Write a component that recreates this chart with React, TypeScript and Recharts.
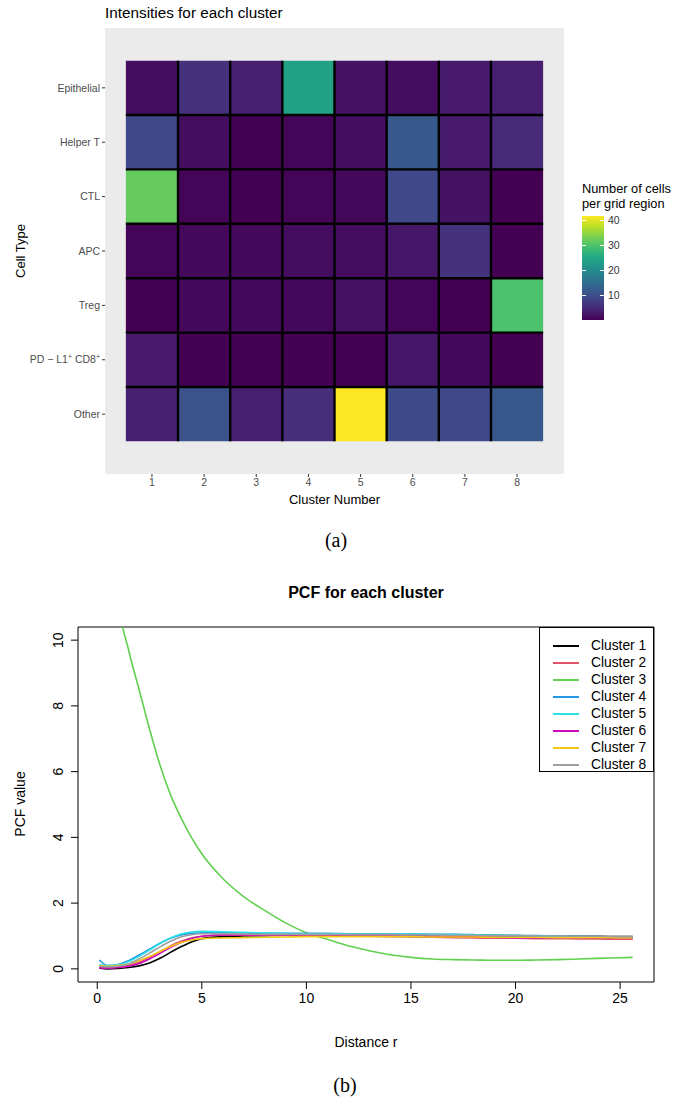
import React from 'react';
import { ScatterChart, Scatter, XAxis, YAxis, ReferenceArea, ReferenceLine, LineChart, Line, Label } from 'recharts';

// ---- (a) heatmap data ----
const CLUSTERS = [1, 2, 3, 4, 5, 6, 7, 8];
const CELL_TYPES = ['Epithelial', 'Helper T', 'CTL', 'APC', 'Treg', 'PD-L1+ CD8+', 'Other'];
const EPITHELIAL = [1.5, 6, 3.5, 24, 2, 1.5, 3, 3.5];
const HELPER_T = [9, 1.5, 0, 0.5, 1.5, 11.5, 3, 5];
const CTL = [32, 0.5, 0, 0.5, 1, 9, 2, 0];
const APC = [0.5, 1, 1, 1.5, 1.5, 2.5, 6, 0];
const TREG = [0, 1, 1, 1, 2, 0.5, 0, 30];
const PDL1_CD8 = [3, 0, 0, 0, 0, 2.5, 1, 0];
const OTHER = [3.5, 10.5, 3.5, 5.5, 42, 9.5, 9, 11.5];
const INTENSITY_ROWS = [EPITHELIAL, HELPER_T, CTL, APC, TREG, PDL1_CD8, OTHER];
const LEGEND_TICKS = [10, 20, 30, 40];

// ---- (b) pcf data ----
const R_VALUES = [0.1, 0.5, 1, 1.5, 2, 2.5, 3, 3.5, 4, 4.5, 5, 6, 7, 8, 9, 10, 11, 12, 13, 14, 15, 16, 17, 18, 19, 20, 21, 22, 23, 24, 25, 25.6];
const PCF_C1 = [0.02, 0.0, 0.01, 0.04, 0.09, 0.18, 0.32, 0.5, 0.67, 0.82, 0.92, 0.98, 1.0, 1.01, 1.02, 1.02, 1.03, 1.03, 1.03, 1.03, 1.02, 1.02, 1.02, 1.01, 1.01, 1.0, 1.0, 1.0, 0.99, 0.99, 0.98, 0.98];
const PCF_C2 = [0.05, 0.03, 0.05, 0.1, 0.2, 0.35, 0.52, 0.7, 0.84, 0.94, 0.99, 1.02, 1.02, 1.02, 1.02, 1.02, 1.01, 1.0, 0.99, 0.98, 0.97, 0.96, 0.95, 0.94, 0.93, 0.93, 0.92, 0.92, 0.91, 0.91, 0.9, 0.9];
const PCF_C3 = [24, 16, 11.3, 9.7, 8.5, 7.3, 6.2, 5.3, 4.6, 4.0, 3.5, 2.75, 2.2, 1.78, 1.4, 1.1, 0.9, 0.7, 0.55, 0.43, 0.35, 0.3, 0.28, 0.27, 0.26, 0.26, 0.27, 0.28, 0.3, 0.32, 0.34, 0.35];
const PCF_C4 = [0.27, 0.1, 0.13, 0.25, 0.42, 0.6, 0.78, 0.93, 1.03, 1.08, 1.1, 1.1, 1.09, 1.08, 1.08, 1.08, 1.08, 1.07, 1.07, 1.06, 1.06, 1.05, 1.05, 1.04, 1.03, 1.02, 1.01, 1.0, 0.99, 0.98, 0.97, 0.97];
const PCF_C5 = [0.12, 0.1, 0.12, 0.22, 0.38, 0.57, 0.77, 0.94, 1.06, 1.12, 1.14, 1.13, 1.11, 1.09, 1.08, 1.07, 1.07, 1.06, 1.06, 1.05, 1.05, 1.04, 1.04, 1.03, 1.02, 1.01, 1.0, 0.99, 0.98, 0.97, 0.96, 0.96];
const PCF_C6 = [0.03, 0.02, 0.04, 0.08, 0.16, 0.3, 0.47, 0.65, 0.8, 0.92, 0.99, 1.03, 1.03, 1.03, 1.03, 1.03, 1.03, 1.02, 1.02, 1.01, 1.0, 0.99, 0.98, 0.97, 0.96, 0.95, 0.95, 0.94, 0.94, 0.93, 0.93, 0.93];
const PCF_C7 = [0.1, 0.08, 0.1, 0.15, 0.25, 0.38, 0.53, 0.68, 0.8, 0.88, 0.92, 0.94, 0.95, 0.96, 0.97, 0.98, 0.98, 0.98, 0.98, 0.98, 0.98, 0.97, 0.97, 0.97, 0.96, 0.96, 0.96, 0.95, 0.95, 0.95, 0.94, 0.94];
const PCF_C8 = [0.08, 0.06, 0.08, 0.15, 0.3, 0.48, 0.67, 0.84, 0.97, 1.04, 1.07, 1.07, 1.06, 1.05, 1.05, 1.05, 1.05, 1.04, 1.04, 1.04, 1.03, 1.03, 1.02, 1.02, 1.01, 1.01, 1.0, 1.0, 0.99, 0.99, 0.98, 0.98];
const PCF_SERIES = [PCF_C1, PCF_C2, PCF_C3, PCF_C4, PCF_C5, PCF_C6, PCF_C7, PCF_C8];
const SERIES_NAMES = ['Cluster 1', 'Cluster 2', 'Cluster 3', 'Cluster 4', 'Cluster 5', 'Cluster 6', 'Cluster 7', 'Cluster 8'];
const SERIES_COLORS = ['#000000', '#DF536B', '#61D04F', '#2297E6', '#28E2E5', '#CD0BBC', '#F5C710', '#9E9E9E'];
const X_TICKS = [0, 5, 10, 15, 20, 25];
const Y_TICKS = [0, 2, 4, 6, 8, 10];

const VIRIDIS = ['#440154', '#482475', '#414487', '#355F8D', '#2A788E', '#21918C', '#22A884', '#44BF70', '#7AD151', '#BDDF26', '#FDE725'];

const SANS = '"Liberation Sans", Arial, Helvetica, sans-serif';
const SERIF = '"Liberation Serif", "Times New Roman", serif';

const hexToRgb = (h: string) => [1, 3, 5].map((i) => parseInt(h.slice(i, i + 2), 16));

function viridis(t: number) {
  const p = Math.max(0, Math.min(1, t)) * (VIRIDIS.length - 1);
  const i = Math.min(Math.floor(p), VIRIDIS.length - 2);
  const f = p - i;
  const a = hexToRgb(VIRIDIS[i]);
  const b = hexToRgb(VIRIDIS[i + 1]);
  const c = a.map((v, k) => Math.round(v + (b[k] - v) * f));
  return `rgb(${c[0]},${c[1]},${c[2]})`;
}

const ALL_VALUES = INTENSITY_ROWS.flat();
const V_MIN = Math.min(...ALL_VALUES);
const V_MAX = Math.max(...ALL_VALUES);
const N_ROWS = CELL_TYPES.length;
const N_COLS = CLUSTERS.length;

const TILES = INTENSITY_ROWS.flatMap((row, ri) =>
  row.map((v, ci) => ({ x: CLUSTERS[ci], y: N_ROWS - ri, v }))
);

const PCF_TABLE = R_VALUES.map((r, i) => {
  const d: Record<string, number> = { r };
  PCF_SERIES.forEach((s, k) => (d[`c${k + 1}`] = s[i]));
  return d;
});

const TICK_FONT = 10.5;

const CellTypeTick = (props: any) => {
  const { x, y, payload } = props;
  const name = CELL_TYPES[N_ROWS - payload.value];
  const common = { x, y, dy: '0.35em', textAnchor: 'end' as const, fill: '#4D4D4D', fontSize: TICK_FONT, fontFamily: SANS };
  if (name === 'PD-L1+ CD8+') {
    return (
      <text {...common}>
        <tspan>PD − L1</tspan>
        <tspan dy={-4} fontSize={7}>+</tspan>
        <tspan dy={4}> CD8</tspan>
        <tspan dy={-4} fontSize={7}>+</tspan>
      </text>
    );
  }
  return <text {...common}>{name}</text>;
};

const RotatedTick = (props: any) => {
  const { x, y, payload } = props;
  const bx = x - 6;
  return (
    <text x={bx} y={y} transform={`rotate(-90, ${bx}, ${y})`} textAnchor="middle" fill="#000" fontSize={14} fontFamily={SANS}>
      {payload.value}
    </text>
  );
};

// legend bar geometry
const BAR_TOP = 216;
const BAR_H = 104;
const barY = (v: number) => BAR_TOP + (1 - (v - V_MIN) / (V_MAX - V_MIN)) * BAR_H;

export default function App() {
  return (
    <div style={{ position: 'absolute', left: 0, top: 0, width: 673, height: 1106, background: '#fff', fontFamily: SANS }}>
      {/* (a) */}
      <div style={{ position: 'absolute', left: 105, top: 4, fontSize: 15.3, color: '#000', whiteSpace: 'nowrap' }}>Intensities for each cluster</div>
      <div style={{ position: 'absolute', left: 20, top: 251, transform: 'translate(-50%, -50%) rotate(-90deg)', fontSize: 13, whiteSpace: 'nowrap' }}>Cell Type</div>
      <div style={{ position: 'absolute', left: 0, top: 0 }}>
        <ScatterChart width={673} height={520} margin={{ top: 28, right: 109, bottom: 14, left: 45 }}>
          <XAxis
            type="number"
            dataKey="x"
            domain={[0.1, N_COLS + 0.9]}
            ticks={CLUSTERS}
            allowDataOverflow
            axisLine={false}
            tickSize={3}
            tickLine={{ stroke: '#333333' }}
            tick={{ fill: '#4D4D4D', fontSize: TICK_FONT, fontFamily: SANS }}
            height={32}
          >
            <Label value="Cluster Number" position="insideBottom" offset={2} style={{ fontSize: 13, fill: '#000', fontFamily: SANS }} />
          </XAxis>
          <YAxis
            type="number"
            dataKey="y"
            domain={[-0.1, N_ROWS + 1.1]}
            ticks={[1, 2, 3, 4, 5, 6, 7]}
            allowDataOverflow
            axisLine={false}
            tickSize={3}
            tickLine={{ stroke: '#333333' }}
            tick={<CellTypeTick />}
            width={60}
          />
          <ReferenceArea x1={0.1} x2={N_COLS + 0.9} y1={-0.1} y2={N_ROWS + 1.1} fill="#EBEBEB" fillOpacity={1} stroke="none" ifOverflow="visible" />
          {TILES.map((t, i) => (
            <ReferenceArea
              key={i}
              x1={t.x - 0.5}
              x2={t.x + 0.5}
              y1={t.y - 0.5}
              y2={t.y + 0.5}
              fill={viridis((t.v - V_MIN) / (V_MAX - V_MIN))}
              fillOpacity={1}
              stroke="none"
              ifOverflow="visible"
            />
          ))}
          {CLUSTERS.slice(0, -1).map((c) => (
            <ReferenceLine
              key={`v${c}`}
              segment={[{ x: c + 0.5, y: 0.5 }, { x: c + 0.5, y: N_ROWS + 0.5 }]}
              stroke="#000"
              strokeWidth={2.4}
              ifOverflow="visible"
            />
          ))}
          {[1, 2, 3, 4, 5, 6].map((r) => (
            <ReferenceLine
              key={`h${r}`}
              segment={[{ x: 0.5, y: r + 0.5 }, { x: N_COLS + 0.5, y: r + 0.5 }]}
              stroke="#000"
              strokeWidth={2.4}
              ifOverflow="visible"
            />
          ))}
          <Scatter data={TILES} isAnimationActive={false} shape={() => <g />} />
        </ScatterChart>
      </div>
      {/* colour bar legend */}
      <div style={{ position: 'absolute', left: 582, top: 181, fontSize: 12.8, lineHeight: '15px', color: '#000', whiteSpace: 'nowrap' }}>
        Number of cells<br />per grid region
      </div>
      <div
        style={{
          position: 'absolute',
          left: 582,
          top: BAR_TOP,
          width: 22,
          height: BAR_H,
          background: `linear-gradient(to top, ${VIRIDIS.join(', ')})`,
        }}
      />
      {LEGEND_TICKS.map((v) => (
        <React.Fragment key={v}>
          <div style={{ position: 'absolute', left: 582, top: barY(v) - 0.5, width: 4, height: 1, background: '#fff' }} />
          <div style={{ position: 'absolute', left: 600, top: barY(v) - 0.5, width: 4, height: 1, background: '#fff' }} />
          <div style={{ position: 'absolute', left: 608, top: barY(v) - 6.5, fontSize: 10.5, color: '#333', lineHeight: '13px' }}>{v}</div>
        </React.Fragment>
      ))}
      <div style={{ position: 'absolute', left: 336, top: 540, transform: 'translate(-50%, -50%)', fontFamily: SERIF, fontSize: 20 }}>(a)</div>

      {/* (b) */}
      <div style={{ position: 'absolute', left: 366, top: 593, transform: 'translate(-50%, -50%)', fontSize: 16, fontWeight: 'bold', whiteSpace: 'nowrap' }}>
        PCF for each cluster
      </div>
      <div style={{ position: 'absolute', left: 20, top: 804, transform: 'translate(-50%, -50%) rotate(-90deg)', fontSize: 14, whiteSpace: 'nowrap' }}>PCF value</div>
      <div style={{ position: 'absolute', left: 366, top: 1042, transform: 'translate(-50%, -50%)', fontSize: 14, whiteSpace: 'nowrap' }}>Distance r</div>
      <div style={{ position: 'absolute', left: 0, top: 570 }}>
        <LineChart width={673} height={480} data={PCF_TABLE} margin={{ top: 57, right: 19, bottom: 28, left: 38 }}>
          <XAxis
            type="number"
            dataKey="r"
            domain={[-0.92, 26.62]}
            ticks={X_TICKS}
            allowDataOverflow
            axisLine={false}
            tickSize={7}
            tickMargin={4}
            tickLine={{ stroke: '#000' }}
            tick={{ fill: '#000', fontSize: 14, fontFamily: SANS }}
            height={40}
          />
          <YAxis
            type="number"
            domain={[-0.4, 10.4]}
            ticks={Y_TICKS}
            allowDataOverflow
            axisLine={false}
            tickSize={7}
            tickMargin={2}
            tickLine={{ stroke: '#000' }}
            tick={<RotatedTick />}
            width={40}
          />
          <ReferenceArea x1={-0.92} x2={26.62} y1={-0.4} y2={10.4} fill="none" stroke="#000" strokeWidth={1} ifOverflow="visible" />
          {SERIES_NAMES.map((name, k) => (
            <Line
              key={name}
              name={name}
              dataKey={`c${k + 1}`}
              type="monotone"
              stroke={SERIES_COLORS[k]}
              strokeWidth={1.6}
              dot={false}
              isAnimationActive={false}
            />
          ))}
        </LineChart>
      </div>
      {/* line legend */}
      <div style={{ position: 'absolute', left: 539, top: 627, width: 115, height: 145, border: '1px solid #000', background: '#fff', boxSizing: 'border-box' }}>
        {SERIES_NAMES.map((name, k) => (
          <div key={name} style={{ position: 'absolute', left: 0, top: 9 + k * 17, height: 17, width: '100%' }}>
            <div style={{ position: 'absolute', left: 13, top: 8, width: 26, height: 1.6, background: SERIES_COLORS[k] }} />
            <div style={{ position: 'absolute', left: 51, top: 0, fontSize: 13.8, lineHeight: '17px', color: '#000', whiteSpace: 'nowrap' }}>{name}</div>
          </div>
        ))}
      </div>
      <div style={{ position: 'absolute', left: 345, top: 1085, transform: 'translate(-50%, -50%)', fontFamily: SERIF, fontSize: 20 }}>(b)</div>
    </div>
  );
}
